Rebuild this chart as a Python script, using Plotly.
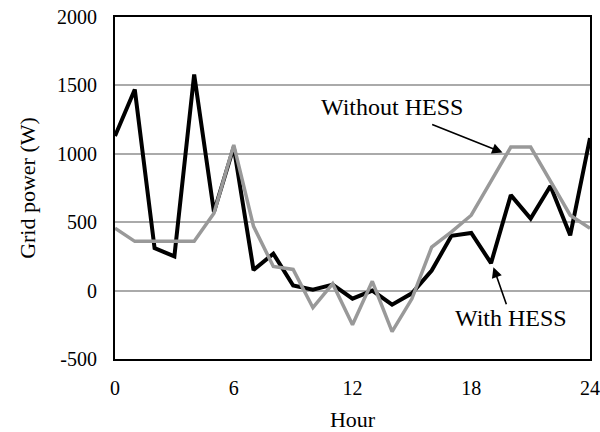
import plotly.graph_objects as go

hours = list(range(25))
with_hess = [1130, 1470, 310, 250, 1580, 575, 1050, 150, 270, 37, 7, 44, -59, 0,
             -103, -20, 147, 400, 421, 201, 698, 527, 765, 404, 1115]
without_hess = [456, 360, 360, 360, 360, 565, 1065, 470, 176, 155, -125, 51, -250, 68,
                -300, -60, 318, 429, 551, 800, 1049, 1049, 796, 551, 456]
x_ticks = [0, 6, 12, 18, 24]
y_ticks = [-500, 0, 500, 1000, 1500, 2000]

FONT = "Liberation Serif"

fig = go.Figure()
fig.add_trace(go.Scatter(x=hours, y=with_hess, mode="lines",
                         line=dict(color="black", width=4), name="With HESS"))
fig.add_trace(go.Scatter(x=hours, y=without_hess, mode="lines",
                         line=dict(color="#999999", width=3.5), name="Without HESS"))

fig.update_layout(
    width=600, height=432,
    margin=dict(l=115, r=10, t=17, b=73),
    paper_bgcolor="white", plot_bgcolor="white",
    showlegend=False,
    font=dict(family=FONT, size=20, color="black"),
)
fig.update_xaxes(range=[0, 24], tickvals=x_ticks, ticktext=[str(v) for v in x_ticks],
                 showgrid=False, zeroline=False, showline=True, mirror=True,
                 linecolor="black", linewidth=2, ticks="", ticklabelstandoff=10,
                 tickfont=dict(size=20), automargin=False,
                 title=dict(text="Hour", font=dict(size=22)))
fig.update_yaxes(range=[-500, 2000], tickvals=y_ticks, ticktext=[str(v) for v in y_ticks],
                 showgrid=True, gridcolor="#aaaaaa", gridwidth=1.5, zeroline=False,
                 showline=True, mirror=True, linecolor="black", linewidth=2, ticks="",
                 ticklabelstandoff=12, tickfont=dict(size=20), automargin=False,
                 title=dict(text="Grid power (W)", font=dict(size=22)))

# annotations: text labels and arrows
fig.add_annotation(x=14.0, y=1345, xref="x", yref="y", text="Without HESS",
                   showarrow=False, font=dict(size=24))
fig.add_annotation(x=19.58, y=1010, ax=15.95, ay=1218, xref="x", yref="y",
                   axref="x", ayref="y", text="", showarrow=True,
                   arrowhead=2, arrowsize=1.3, arrowwidth=1.6, arrowcolor="black")
fig.add_annotation(x=20.0, y=-198, xref="x", yref="y", text="With HESS",
                   showarrow=False, font=dict(size=24))
fig.add_annotation(x=19.12, y=171, ax=19.8, ay=-110, xref="x", yref="y",
                   axref="x", ayref="y", text="", showarrow=True,
                   arrowhead=2, arrowsize=1.3, arrowwidth=1.6, arrowcolor="black")

fig.write_html("out.html")
